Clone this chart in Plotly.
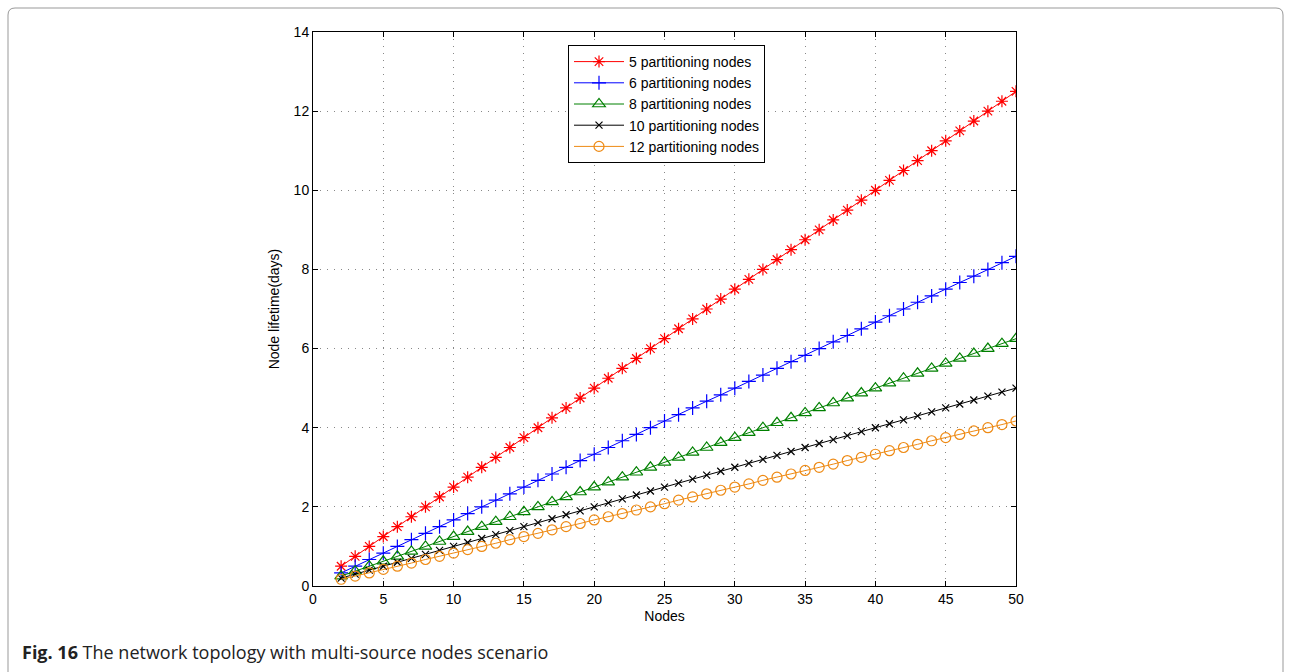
import plotly.graph_objects as go

nodes = [2, 3, 4, 5, 6, 7, 8, 9, 10, 11, 12, 13, 14, 15, 16, 17, 18, 19, 20, 21, 22, 23, 24, 25, 26,
         27, 28, 29, 30, 31, 32, 33, 34, 35, 36, 37, 38, 39, 40, 41, 42, 43, 44, 45, 46, 47, 48, 49, 50]

p5 = [0.50, 0.75, 1.00, 1.25, 1.50, 1.75, 2.00, 2.25, 2.50, 2.75, 3.00, 3.25, 3.50, 3.75, 4.00, 4.25,
      4.50, 4.75, 5.00, 5.25, 5.50, 5.75, 6.00, 6.25, 6.50, 6.75, 7.00, 7.25, 7.50, 7.75, 8.00, 8.25,
      8.50, 8.75, 9.00, 9.25, 9.50, 9.75, 10.00, 10.25, 10.50, 10.75, 11.00, 11.25, 11.50, 11.75,
      12.00, 12.25, 12.50]
p6 = [0.33, 0.50, 0.67, 0.83, 1.00, 1.17, 1.33, 1.50, 1.67, 1.83, 2.00, 2.17, 2.33, 2.50, 2.67, 2.83,
      3.00, 3.17, 3.33, 3.50, 3.67, 3.83, 4.00, 4.17, 4.33, 4.50, 4.67, 4.83, 5.00, 5.17, 5.33, 5.50,
      5.67, 5.83, 6.00, 6.17, 6.33, 6.50, 6.67, 6.83, 7.00, 7.17, 7.33, 7.50, 7.67, 7.83, 8.00, 8.17, 8.33]
p8 = [0.25, 0.375, 0.50, 0.625, 0.75, 0.875, 1.00, 1.125, 1.25, 1.375, 1.50, 1.625, 1.75, 1.875, 2.00,
      2.125, 2.25, 2.375, 2.50, 2.625, 2.75, 2.875, 3.00, 3.125, 3.25, 3.375, 3.50, 3.625, 3.75, 3.875,
      4.00, 4.125, 4.25, 4.375, 4.50, 4.625, 4.75, 4.875, 5.00, 5.125, 5.25, 5.375, 5.50, 5.625, 5.75,
      5.875, 6.00, 6.125, 6.25]
p10 = [0.2, 0.3, 0.4, 0.5, 0.6, 0.7, 0.8, 0.9, 1.0, 1.1, 1.2, 1.3, 1.4, 1.5, 1.6, 1.7, 1.8, 1.9, 2.0,
       2.1, 2.2, 2.3, 2.4, 2.5, 2.6, 2.7, 2.8, 2.9, 3.0, 3.1, 3.2, 3.3, 3.4, 3.5, 3.6, 3.7, 3.8, 3.9,
       4.0, 4.1, 4.2, 4.3, 4.4, 4.5, 4.6, 4.7, 4.8, 4.9, 5.0]
p12 = [0.17, 0.25, 0.33, 0.42, 0.50, 0.58, 0.67, 0.75, 0.83, 0.92, 1.00, 1.08, 1.17, 1.25, 1.33, 1.42,
       1.50, 1.58, 1.67, 1.75, 1.83, 1.92, 2.00, 2.08, 2.17, 2.25, 2.33, 2.42, 2.50, 2.58, 2.67, 2.75,
       2.83, 2.92, 3.00, 3.08, 3.17, 3.25, 3.33, 3.42, 3.50, 3.58, 3.67, 3.75, 3.83, 3.92, 4.00, 4.08, 4.17]

series = [
    ("5 partitioning nodes", p5, "#ff0000", "asterisk-open", 10),
    ("6 partitioning nodes", p6, "#0000ff", "cross-thin-open", 10),
    ("8 partitioning nodes", p8, "#008000", "triangle-up-open", 11),
    ("10 partitioning nodes", p10, "#000000", "x-thin-open", 7),
    ("12 partitioning nodes", p12, "#ee8a14", "circle-open", 10),
]

fig = go.Figure()
for name, ys, col, sym, sz in series:
    fig.add_trace(go.Scatter(
        x=nodes, y=ys, name=name, mode="lines+markers",
        line=dict(color=col, width=1),
        marker=dict(symbol=sym, size=sz, color=col, line=dict(color=col, width=1.2)),
    ))

W, H = 1290, 672
L, R, T, B = 313, 1016, 32, 586
pw, ph = R - L, B - T

def px(x):
    return (x - L) / pw

def py(y):
    return (B - y) / ph

# rounded frame
x0, x1, y0, y1, r = 8, 1283, 8, 700, 7
path = (f"M {px(x0 + r)},{py(y0)} L {px(x1 - r)},{py(y0)} Q {px(x1)},{py(y0)} {px(x1)},{py(y0 + r)} "
        f"L {px(x1)},{py(y1 - r)} Q {px(x1)},{py(y1)} {px(x1 - r)},{py(y1)} "
        f"L {px(x0 + r)},{py(y1)} Q {px(x0)},{py(y1)} {px(x0)},{py(y1 - r)} "
        f"L {px(x0)},{py(y0 + r)} Q {px(x0)},{py(y0)} {px(x0 + r)},{py(y0)} Z")

FONT = "Liberation Sans, Arial, Helvetica, sans-serif"

axis_common = dict(
    showline=True, linecolor="black", linewidth=1, mirror="allticks",
    ticks="inside", ticklen=5, tickcolor="black",
    showgrid=True, gridcolor="#888888", griddash="1px,6px", gridwidth=1,
    zeroline=False, tickfont=dict(family=FONT, size=14, color="black"),
)

fig.update_layout(
    width=W, height=H,
    margin=dict(l=L, r=W - R, t=T, b=H - B),
    paper_bgcolor="white", plot_bgcolor="white",
    font=dict(family=FONT, size=14, color="black"),
    xaxis=dict(range=[0, 50], tick0=0, dtick=5,
               title=dict(text="Nodes", standoff=5, font=dict(family=FONT, size=14)), **axis_common),
    yaxis=dict(range=[0, 14], tick0=0, dtick=2,
               title=dict(text="Node lifetime(days)", standoff=10, font=dict(family=FONT, size=14)),
               **axis_common),
    legend=dict(x=px(568), y=py(45), xanchor="left", yanchor="top",
                bordercolor="black", borderwidth=1, bgcolor="white",
                font=dict(family=FONT, size=14),
                tracegroupgap=0, itemwidth=50, entrywidth=0),
    shapes=[dict(type="path", xref="paper", yref="paper", path=path,
                 line=dict(color="#999999", width=1), layer="below")],
    annotations=[dict(xref="paper", yref="paper", x=px(20), y=py(652), xanchor="left", yanchor="middle",
                      showarrow=False,
                      text="<b>Fig. 16</b> The network topology with multi-source nodes scenario",
                      font=dict(family="Open Sans, Noto Sans", size=18, color="#222222"))],
)

fig.write_html("out.html")
